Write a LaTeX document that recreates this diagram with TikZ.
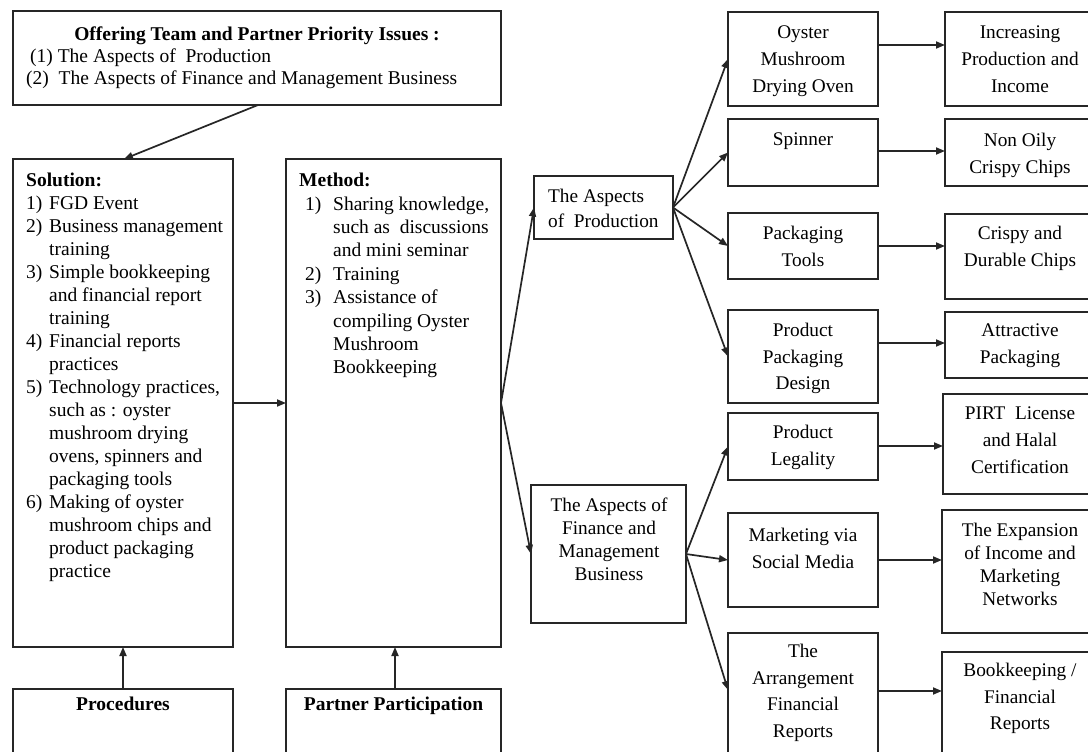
\documentclass[tikz,border=0pt]{standalone}
\usepackage{fontspec}
\setmainfont{Liberation Serif}
\usetikzlibrary{arrows.meta}
\newcommand\bxnode[5]{\node[bx, minimum width={#4-#2}, minimum height={#5-#3}] (#1) at (#2,#3) {};}
\begin{document}
\begin{tikzpicture}[x=1pt,y=-1pt,
  bx/.style={draw=black!85, line width=1.6pt, inner sep=0pt, outer sep=0pt, anchor=north west},
  arr/.style={draw=black!85, line width=1.7pt, -{Triangle[length=9pt,width=7pt]}},
  txt/.style={inner sep=0pt, font=\fontsize{19.5}{23}\selectfont},
  ltxt/.style={txt, align=left, anchor=north west},
  ctxt/.style={inner sep=0pt, align=center, anchor=north, font=\fontsize{19.3}{26.7}\selectfont},
]
\useasboundingbox (0,0) rectangle (1088,752);
\fill[white] (0,0) rectangle (1088,752);

% boxes
\bxnode{top}{13}{11}{501}{105}
\bxnode{sol}{13}{159}{233}{647}
\bxnode{meth}{286}{159}{501}{647}
\bxnode{proc}{13}{689}{233}{775}
\bxnode{part}{286}{689}{501}{775}
\bxnode{prod}{534}{176}{673}{239}
\bxnode{fin}{531}{485}{686}{623}
\bxnode{oven}{728}{12}{878}{106}
\bxnode{spin}{728}{119}{878}{186}
\bxnode{ptool}{728}{213}{878}{279}
\bxnode{ppd}{728}{310}{878}{403}
\bxnode{legal}{728}{413}{878}{480}
\bxnode{mkt}{728}{513}{878}{607}
\bxnode{arrg}{728}{633}{878}{775}
\bxnode{inc}{945}{12}{1100}{106}
\bxnode{oily}{945}{119}{1100}{186}
\bxnode{dur}{945}{214}{1100}{299}
\bxnode{attr}{945}{312}{1100}{378}
\bxnode{pirt}{943}{394}{1100}{494}
\bxnode{exp}{942}{510}{1100}{633}
\bxnode{book}{942}{652}{1100}{775}

% texts
\node[txt, anchor=north, font=\bfseries\fontsize{19.5}{22}\selectfont] (toph) at (257,27) {Offering Team and Partner Priority Issues :};
\node[ltxt, font=\fontsize{19.5}{22}\selectfont] (topl) at (26,49) {\hspace*{4pt}(1) The Aspects of~ Production\\(2)~~The Aspects of Finance and Management Business};

\node[ltxt] (solt) at (26,173) {\textbf{Solution:}\\
\makebox[23pt][l]{1)}FGD Event\\
\makebox[23pt][l]{2)}Business management\\
\hspace*{23pt}training\\
\makebox[23pt][l]{3)}Simple bookkeeping\\
\hspace*{23pt}and financial report\\
\hspace*{23pt}training\\
\makebox[23pt][l]{4)}Financial reports\\
\hspace*{23pt}practices\\
\makebox[23pt][l]{5)}Technology practices,\\
\hspace*{23pt}such as : oyster\\
\hspace*{23pt}mushroom drying\\
\hspace*{23pt}ovens, spinners and\\
\hspace*{23pt}packaging tools\\
\makebox[23pt][l]{6)}Making of oyster\\
\hspace*{23pt}mushroom chips and\\
\hspace*{23pt}product packaging\\
\hspace*{23pt}practice};

\node[ltxt, font=\fontsize{19.5}{23.4}\selectfont] (metht) at (299,173) {\textbf{Method:}\\
\hspace*{6pt}\makebox[28pt][l]{1)}Sharing knowledge,\\
\hspace*{34pt}such as~~discussions\\
\hspace*{34pt}and mini seminar\\
\hspace*{6pt}\makebox[28pt][l]{2)}Training\\
\hspace*{6pt}\makebox[28pt][l]{3)}Assistance of\\
\hspace*{34pt}compiling Oyster\\
\hspace*{34pt}Mushroom\\
\hspace*{34pt}Bookkeeping};

\node[txt, anchor=north, font=\bfseries\fontsize{19.5}{23}\selectfont] (proct) at (123,697) {Procedures};
\node[txt, anchor=north, font=\bfseries\fontsize{19.5}{23}\selectfont] (partt) at (393.5,697) {Partner Participation};

\node[ltxt, font=\fontsize{19.3}{25}\selectfont] (prodt) at (548,189) {The Aspects\\of~ Production};
\node[ctxt, font=\fontsize{19.3}{23}\selectfont] (fint) at (609,498) {The Aspects of\\Finance and\\Management\\Business};

\node[ctxt] (ovent) at (803,26) {Oyster\\Mushroom\\Drying Oven};
\node[ctxt] (spint) at (803,133) {Spinner};
\node[ctxt] (ptoolt) at (803,226) {Packaging\\Tools};
\node[ctxt] (ppdt) at (803,323) {Product\\Packaging\\Design};
\node[ctxt] (legalt) at (803,425) {Product\\Legality};
\node[ctxt] (mktt) at (803,528) {Marketing via\\Social Media};
\node[ctxt] (arrgt) at (803,644) {The\\Arrangement\\Financial\\Reports};

\node[ctxt] (inct) at (1020,26) {Increasing\\Production and\\Income};
\node[ctxt] (oilyt) at (1020,133) {Non Oily\\Crispy Chips};
\node[ctxt] (durt) at (1020,226) {Crispy and\\Durable Chips};
\node[ctxt] (attrt) at (1020,324) {Attractive\\Packaging};
\node[ctxt] (pirtt) at (1020,407) {PIRT~ License\\and Halal\\Certification};
\node[ctxt, font=\fontsize{19.3}{23}\selectfont] (expt) at (1020,523) {The Expansion\\of Income and\\Marketing\\Networks};
\node[ctxt] (bookt) at (1020,663) {Bookkeeping /\\Financial\\Reports};

% connectors
\draw[arr] ([xshift=1pt]top.south) -- ([xshift=1pt]sol.north);
\draw[arr] (proc.north) -- (sol.south);
\draw[arr] ([xshift=1.5pt]part.north) -- ([xshift=1.5pt]meth.south);
\draw[arr] (sol.east) -- (meth.west);
\draw[arr] (meth.east) -- (prod.west);
\draw[arr] (meth.east) -- (fin.west);
\draw[arr] (prod.east) -- (oven.west);
\draw[arr] (prod.east) -- (spin.west);
\draw[arr] (prod.east) -- (ptool.west);
\draw[arr] (prod.east) -- (ppd.west);
\draw[arr] (fin.east) -- (legal.west);
\draw[arr] (fin.east) -- (mkt.west);
\draw[arr] (fin.east) -- ([yshift=-57pt]arrg.north west);

\draw[arr] ([yshift=14pt]oven.east) -- ([yshift=14pt]oven.east -| inc.west);
\draw[arr] ([yshift=1.5pt]spin.east) -- ([yshift=1.5pt]spin.east -| oily.west);
\draw[arr] (ptool.east) -- (ptool.east -| dur.west);
\draw[arr] ([yshift=13.5pt]ppd.east) -- ([yshift=13.5pt]ppd.east -| attr.west);
\draw[arr] ([yshift=0.5pt]legal.east) -- ([yshift=0.5pt]legal.east -| pirt.west);
\draw[arr] (mkt.east) -- (mkt.east -| exp.west);
\draw[arr] ([yshift=-58pt]arrg.north east) -- ([yshift=-58pt]arrg.north east -| book.west);
\end{tikzpicture}
\end{document}
